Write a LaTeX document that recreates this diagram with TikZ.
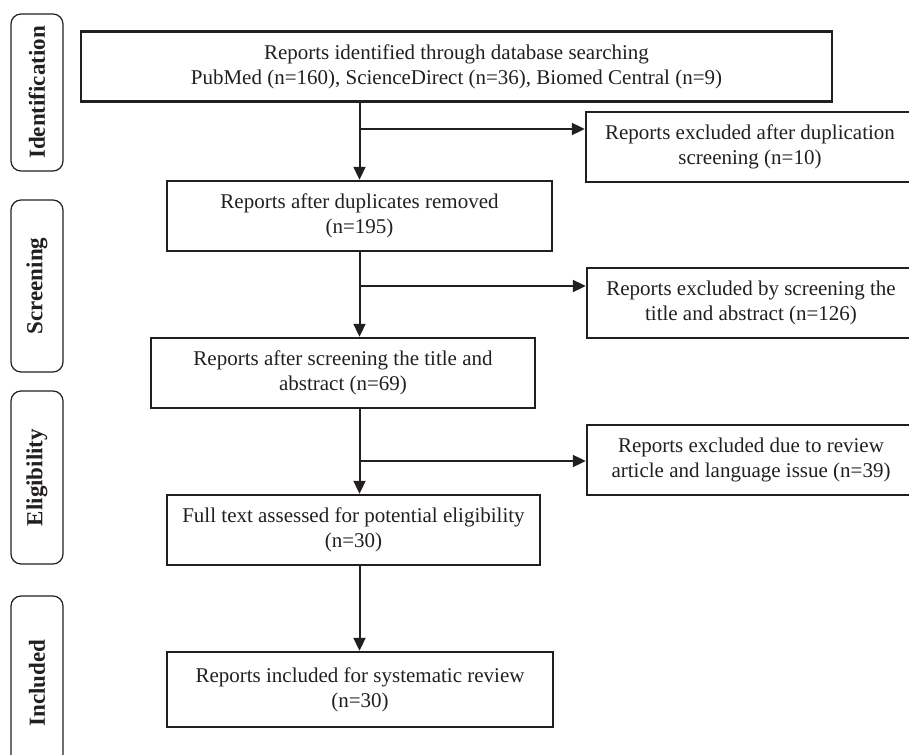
\documentclass[tikz,border=0pt]{standalone}
\usepackage{fontspec}
\setmainfont{Liberation Serif}
\usetikzlibrary{arrows.meta,calc}
\definecolor{ink}{RGB}{35,31,32}

\begin{document}
\begin{tikzpicture}[
  x=1pt, y=-1pt,
  >={Triangle[length=13pt,width=12pt]},
  every node/.style={font=\fontsize{21}{25}\selectfont, text=ink},
  flowbox/.style={draw=ink, line width=2.4pt, align=center, minimum height=70pt, inner sep=0pt},
  sidebox/.style={draw=ink, line width=1.2pt, rounded corners=10pt, rotate=90,
    minimum height=52pt, inner sep=0pt, font=\fontsize{23}{27}\selectfont\bfseries},
  link/.style={->, draw=ink, line width=2pt}
]
  \useasboundingbox (0,0) rectangle (909,754);

  % Phase labels on the left
  \node[sidebox, minimum width=157pt] (ident) at (37, 92.5)  {Identification};
  \node[sidebox, minimum width=172pt] (scrn)  at (37, 286)   {Screening};
  \node[sidebox, minimum width=173pt] (elig)  at (37, 477.5) {Eligibility};
  \node[sidebox, minimum width=174pt] (incl)  at (37, 683)   {Included};

  % Main flow
  \node[flowbox, minimum width=751pt] (found) at (456.5, 66.5)
    {Reports identified through database searching\\
     PubMed (n=160), ScienceDirect (n=36), Biomed Central (n=9)};
  \node[flowbox, minimum width=385pt] (dedup) at (359.5, 216)
    {Reports after duplicates removed\\(n=195)};
  \node[flowbox, minimum width=384pt] (titled) at (343, 373)
    {Reports after screening the title and\\abstract (n=69)};
  \node[flowbox, minimum width=373pt] (fulltext) at (353.5, 530)
    {Full text assessed for potential eligibility\\(n=30)};
  \node[flowbox, minimum width=386pt, minimum height=75pt] (review) at (360, 689.5)
    {Reports included for systematic review\\(n=30)};

  % Exclusions on the right (cut by the page edge)
  \node[flowbox, minimum width=328pt] (dupout) at (750, 147)
    {Reports excluded after duplication\\screening (n=10)};
  \node[flowbox, minimum width=328pt] (absout) at (751, 303)
    {Reports excluded by screening the\\title and abstract (n=126)};
  \node[flowbox, minimum width=328pt] (langout) at (751, 460)
    {Reports excluded due to review\\article and language issue (n=39)};

  % Branch points on the spine
  \coordinate (b1) at (359.5, 129);
  \coordinate (b2) at (359.5, 286);
  \coordinate (b3) at (359.5, 461);

  % Connectors
  \draw[link] (found.south -| b1) -- (dedup.north -| b1);
  \draw[link] (b1) -- (b1 -| dupout.west);
  \draw[link] (dedup.south -| b2) -- (titled.north -| b2);
  \draw[link] (b2) -- (b2 -| absout.west);
  \draw[link] (titled.south -| b3) -- (fulltext.north -| b3);
  \draw[link] (b3) -- (b3 -| langout.west);
  \draw[link] (fulltext.south -| b3) -- (review.north -| b3);
\end{tikzpicture}
\end{document}
